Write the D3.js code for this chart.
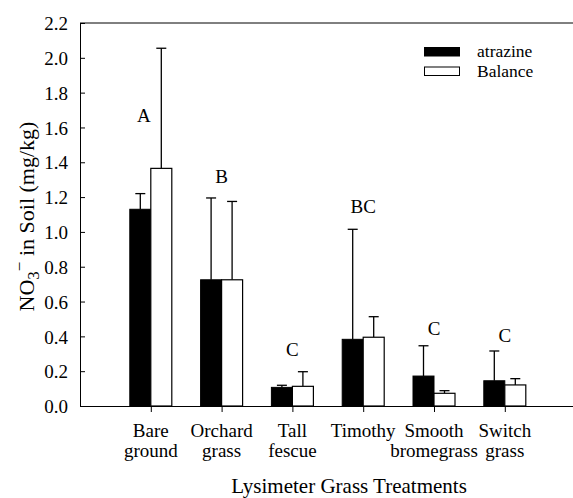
<!DOCTYPE html>
<html>
<head>
<meta charset="utf-8">
<script src="https://cdn.jsdelivr.net/npm/d3@7"></script>
<style>
  body { margin: 0; background: #fff; }
  text { font-family: "Liberation Serif", "Times New Roman", serif; fill: #000; }
</style>
</head>
<body>
<div class="main"></div>
<script>
const w = 573;
const h = 498;

const categories = ['Bare ground', 'Orchard grass', 'Tall fescue', 'Timothy', 'Smooth bromegrass', 'Switch grass'];
const catLines = [['Bare', 'ground'], ['Orchard', 'grass'], ['Tall', 'fescue'], ['Timothy'], ['Smooth', 'bromegrass'], ['Switch', 'grass']];
const atrazine = [1.13, 0.725, 0.107, 0.383, 0.172, 0.145];
const atrazineErr = [0.09, 0.47, 0.012, 0.632, 0.174, 0.171];
const balance = [1.365, 0.725, 0.113, 0.395, 0.073, 0.121];
const balanceErr = [0.69, 0.45, 0.084, 0.118, 0.015, 0.036];
const letters = ['A', 'B', 'C', 'BC', 'C', 'C'];
const letterY = [1.63, 1.28, 0.29, 1.11, 0.41, 0.37];
const yTicks = [0, 0.2, 0.4, 0.6, 0.8, 1.0, 1.2, 1.4, 1.6, 1.8, 2.0, 2.2];

const pLeft = 80, pRight = 575.6, pTop = 23, pBottom = 406;
const barW = 21;

const svg = d3.select('.main').append('svg').attr('width', w).attr('height', h);

const x = d3.scalePoint().domain(categories).range([pLeft, pRight]).padding(1);
const y = d3.scaleLinear().domain([0, 2.2]).range([pBottom, pTop]);

// top frame line
svg.append('line')
  .attr('x1', pLeft).attr('x2', w)
  .attr('y1', pTop).attr('y2', pTop)
  .attr('stroke', '#000').attr('stroke-width', 1);

const yAxis = svg.append('g')
  .attr('transform', `translate(${pLeft},0)`)
  .call(d3.axisLeft(y).tickValues(yTicks).tickFormat(d3.format('.1f')).tickSizeInner(-5).tickSizeOuter(0).tickPadding(12));
yAxis.selectAll('text').style('font-size', '19px').attr('dy', '0.35em');

const xAxis = svg.append('g')
  .attr('transform', `translate(0,${pBottom})`)
  .call(d3.axisBottom(x).tickSize(6).tickSizeOuter(0).tickFormat(''));
xAxis.select('.domain').attr('d', `M${pLeft},0.5H${w}`);

svg.selectAll('.domain, .tick line').attr('stroke', '#000');

// error bars (drawn first, bars cover the lower part)
function errBar(vals, errs, dx) {
  const g = svg.append('g').attr('stroke', '#000').attr('stroke-width', 1.3);
  categories.forEach(function (c, i) {
    const cx = x(c) + dx;
    g.append('line').attr('x1', cx).attr('x2', cx).attr('y1', y(vals[i])).attr('y2', y(vals[i] + errs[i]));
    g.append('line').attr('x1', cx - 5).attr('x2', cx + 5).attr('y1', y(vals[i] + errs[i])).attr('y2', y(vals[i] + errs[i]));
  });
}
errBar(atrazine, atrazineErr, -barW / 2);
errBar(balance, balanceErr, barW / 2);

svg.append('g').selectAll('rect')
  .data(atrazine)
  .enter()
  .append('rect')
  .attr('x', (d, i) => x(categories[i]) - barW)
  .attr('y', d => y(d))
  .attr('width', barW)
  .attr('height', d => pBottom - y(d))
  .attr('fill', '#000')
  .attr('stroke', '#000');

svg.append('g').selectAll('rect')
  .data(balance)
  .enter()
  .append('rect')
  .attr('x', (d, i) => x(categories[i]))
  .attr('y', d => y(d))
  .attr('width', barW)
  .attr('height', d => pBottom - y(d))
  .attr('fill', '#fff')
  .attr('stroke', '#000')
  .attr('stroke-width', 1.2);

// significance letters
svg.append('g').selectAll('text')
  .data(letters)
  .enter()
  .append('text')
  .attr('x', (d, i) => x(categories[i]) + (i === 0 ? -7 : 0))
  .attr('y', (d, i) => y(letterY[i]))
  .attr('text-anchor', 'middle')
  .style('font-size', '19px')
  .text(d => d);

// category labels
const cl = svg.append('g');
catLines.forEach(function (lines, i) {
  lines.forEach(function (t, j) {
    cl.append('text')
      .attr('x', x(categories[i]))
      .attr('y', 437 + j * 20)
      .attr('text-anchor', 'middle')
      .style('font-size', '19px')
      .text(t);
  });
});

svg.append('text')
  .attr('x', 349).attr('y', 493)
  .attr('text-anchor', 'middle')
  .style('font-size', '21px')
  .text('Lysimeter Grass Treatments');

const yt = svg.append('text')
  .attr('transform', `translate(34,${(pTop + pBottom) / 2 + 2}) rotate(-90)`)
  .attr('text-anchor', 'middle')
  .style('font-size', '22px');
yt.append('tspan').text('NO');
yt.append('tspan').attr('dy', 5).style('font-size', '17px').text('3');
yt.append('tspan').attr('dy', -14).style('font-size', '17px').text('\u2212');
yt.append('tspan').attr('dy', 9).text(' in Soil (mg/kg)');

// legend
const legend = [['atrazine', '#000'], ['Balance', '#fff']];
const lg = svg.append('g');
legend.forEach(function (d, i) {
  lg.append('rect')
    .attr('x', 424.5).attr('y', 47.5 + i * 19.5)
    .attr('width', 35).attr('height', 8.5)
    .attr('fill', d[1]).attr('stroke', '#000');
  lg.append('text')
    .attr('x', 477).attr('y', 57 + i * 19.5)
    .style('font-size', '17.5px')
    .text(d[0]);
});
</script>
</body>
</html>
